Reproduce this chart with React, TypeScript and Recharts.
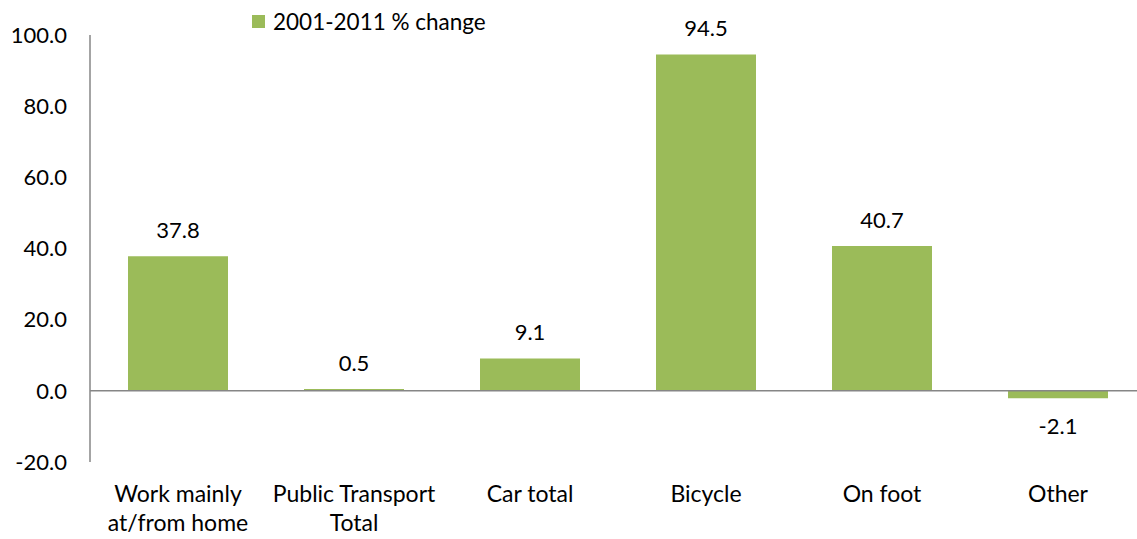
import { BarChart, Bar, XAxis, YAxis, Legend, ReferenceLine, LabelList } from 'recharts';

const CATEGORIES = ['Work mainly\nat/from home', 'Public Transport\nTotal', 'Car total', 'Bicycle', 'On foot', 'Other'];
const CHANGE = [37.8, 0.5, 9.1, 94.5, 40.7, -2.1];
const Y_TICKS = [-20, 0, 20, 40, 60, 80, 100];
const SERIES_NAME = '2001-2011 % change';

const GREEN = '#9bbb59';
const AXIS = '#868686';
const FONT = 'Lato, "Open Sans", sans-serif';

const data = CATEGORIES.map((c, i) => ({ category: c, value: CHANGE[i] }));

function CategoryTick(props: any) {
  const { x, y, payload } = props;
  const lines = String(payload.value).split('\n');
  return (
    <g>
      {lines.map((line, i) => (
        <text key={i} x={x} y={y + 31 + i * 29} textAnchor="middle" dominantBaseline="central"
          fontFamily={FONT} fontSize={23} fill="#000">
          {line}
        </text>
      ))}
    </g>
  );
}

function ValueLabel(props: any) {
  const { x, y, width, height, value } = props;
  const top = Math.min(y, y + height);
  const bottom = Math.max(y, y + height);
  const ly = value >= 0 ? top - 27 : bottom + 27;
  return (
    <text x={x + width / 2} y={ly} textAnchor="middle" dominantBaseline="central"
      fontFamily={FONT} fontSize={22} fill="#000">
      {Number(value).toFixed(1)}
    </text>
  );
}

function LegendBox() {
  return (
    <div style={{ display: 'flex', alignItems: 'center', fontFamily: FONT, fontSize: 22.5, color: '#000', whiteSpace: 'nowrap' }}>
      <span style={{ display: 'inline-block', width: 13, height: 13, background: GREEN, marginRight: 8 }} />
      {SERIES_NAME}
    </div>
  );
}

export default function App() {
  return (
    <div style={{ position: 'absolute', top: 0, left: 0, width: 1137, height: 539, overflow: 'hidden', background: '#fff' }}>
      <BarChart width={1146} height={539} data={data} margin={{ top: 35, right: 0, left: 0, bottom: 0 }}
        style={{ overflow: 'visible' }}>
        <Legend verticalAlign="middle" wrapperStyle={{ top: 8, left: 252, width: 'auto', height: 'auto' }} content={() => <LegendBox />} />
        <YAxis domain={[-20, 100]} ticks={Y_TICKS} width={90} interval={0}
          tickFormatter={(v: number) => v.toFixed(1)} tickLine={false} tickSize={0} tickMargin={23}
          axisLine={{ stroke: AXIS, strokeWidth: 1.5 }}
          tick={{ fontFamily: FONT, fontSize: 22, fill: '#000' }} />
        <XAxis dataKey="category" height={77} axisLine={false} tickLine={false} tickSize={0} tickMargin={0}
          interval={0} tick={<CategoryTick />} />
        <ReferenceLine y={0} stroke={AXIS} strokeWidth={1.5} />
        <Bar dataKey="value" name={SERIES_NAME} fill={GREEN} barSize={100} isAnimationActive={false}>
          <LabelList dataKey="value" content={<ValueLabel />} />
        </Bar>
      </BarChart>
    </div>
  );
}
